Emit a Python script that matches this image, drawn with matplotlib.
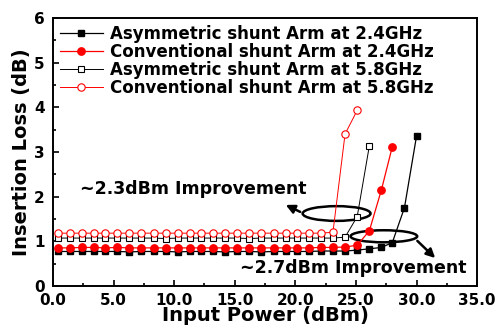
import matplotlib
matplotlib.use("Agg")
import matplotlib.pyplot as plt
from matplotlib.patches import Ellipse
from matplotlib.ticker import MultipleLocator

plt.rcParams['font.family'] = ['DejaVu Sans']
plt.rcParams['font.weight'] = 'bold'

# input power points (dBm), shared by all four curves
power = [0.4, 1.4, 2.4, 3.4, 4.3, 5.3, 6.3, 7.3, 8.3, 9.3, 10.3, 11.3,
         12.2, 13.2, 14.2, 15.2, 16.2, 17.2, 18.2, 19.2, 20.1, 21.1, 22.1,
         23.1, 24.1, 25.1, 26.1, 27.1, 28.0, 29.0, 30.0]

# insertion loss (dB)
asym_24 = [0.77, 0.77, 0.77, 0.77, 0.77, 0.77, 0.76, 0.77, 0.77, 0.77, 0.76,
           0.77, 0.77, 0.77, 0.76, 0.77, 0.77, 0.76, 0.77, 0.77, 0.77, 0.77,
           0.78, 0.78, 0.78, 0.80, 0.83, 0.86, 0.97, 1.75, 3.36]
conv_24 = [0.85, 0.85, 0.86, 0.86, 0.85, 0.86, 0.85, 0.85, 0.85, 0.85, 0.85,
           0.85, 0.85, 0.85, 0.85, 0.85, 0.85, 0.85, 0.85, 0.85, 0.85, 0.85,
           0.86, 0.86, 0.87, 0.91, 1.23, 2.15, 3.12]
asym_58 = [1.07, 1.07, 1.07, 1.07, 1.07, 1.07, 1.07, 1.07, 1.07, 1.06, 1.07,
           1.07, 1.07, 1.07, 1.07, 1.07, 1.06, 1.07, 1.07, 1.07, 1.07, 1.07,
           1.07, 1.07, 1.09, 1.55, 3.13]
conv_58 = [1.18, 1.18, 1.18, 1.18, 1.18, 1.18, 1.18, 1.18, 1.18, 1.18, 1.18,
           1.18, 1.18, 1.18, 1.18, 1.18, 1.18, 1.18, 1.18, 1.18, 1.18, 1.18,
           1.18, 1.20, 3.40, 3.93]

labels = ["Asymmetric shunt Arm at 2.4GHz",
          "Conventional shunt Arm at 2.4GHz",
          "Asymmetric shunt Arm at 5.8GHz",
          "Conventional shunt Arm at 5.8GHz"]

fig = plt.figure(figsize=(4.95, 3.32), dpi=100)
ax = fig.add_axes([0.107, 0.139, 0.857, 0.807])

ax.plot(power[:len(asym_24)], asym_24, color='black', lw=0.9, marker='s',
        ms=4.5, mfc='black', mec='black', label=labels[0])
ax.plot(power[:len(conv_24)], conv_24, color='red', lw=0.9, marker='o',
        ms=5.3, mfc='red', mec='red', label=labels[1])
ax.plot(power[:len(asym_58)], asym_58, color='black', lw=0.7, marker='s',
        ms=4.5, mfc='white', mec='black', mew=0.8, label=labels[2])
ax.plot(power[:len(conv_58)], conv_58, color='red', lw=0.7, marker='o',
        ms=5.3, mfc='white', mec='red', mew=0.8, label=labels[3])

# annotation ellipses and arrows
ax.add_patch(Ellipse((23.4, 1.62), 5.6, 0.33, fill=False, ec='black', lw=1.8))
ax.annotate("", xy=(19.0, 1.84), xytext=(20.6, 1.63),
            arrowprops=dict(arrowstyle='-|>', color='black', lw=1.8,
                            mutation_scale=13))
ax.text(2.2, 2.17, "~2.3dBm Improvement", fontsize=12.5, fontweight='bold',
        va='center', ha='left')

ax.add_patch(Ellipse((27.3, 1.11), 5.5, 0.27, fill=False, ec='black', lw=1.8))
ax.annotate("", xy=(31.7, 0.58), xytext=(29.9, 1.05),
            arrowprops=dict(arrowstyle='-|>', color='black', lw=1.8,
                            mutation_scale=13))
ax.text(15.4, 0.40, "~2.7dBm Improvement", fontsize=12.5, fontweight='bold',
        va='center', ha='left')

ax.set_xlim(0, 35)
ax.set_ylim(0, 6)
ax.xaxis.set_major_locator(MultipleLocator(5))
ax.xaxis.set_minor_locator(MultipleLocator(2.5))
ax.yaxis.set_major_locator(MultipleLocator(1))
ax.yaxis.set_minor_locator(MultipleLocator(0.5))
ax.xaxis.set_major_formatter(plt.FormatStrFormatter('%.1f'))
ax.tick_params(which='both', direction='in', labelsize=11, width=1.2)
ax.tick_params(which='major', length=4)
ax.tick_params(which='minor', length=2.5)
ax.tick_params(axis='x', which='major', pad=5)
ax.tick_params(axis='y', which='major', pad=6)
for s in ax.spines.values():
    s.set_linewidth(1.4)

ax.set_xlabel("Input Power (dBm)", fontsize=14, fontweight='bold', labelpad=-1)
ax.set_ylabel("Insertion Loss (dB)", fontsize=14, fontweight='bold', labelpad=2)

leg = ax.legend(loc='upper left', frameon=False,
                handlelength=2.6, handletextpad=0.4, labelspacing=0.0,
                borderaxespad=0.2, borderpad=0.2,
                prop={'weight': 'bold', 'size': 12})

fig.savefig("out.png", dpi=100)
